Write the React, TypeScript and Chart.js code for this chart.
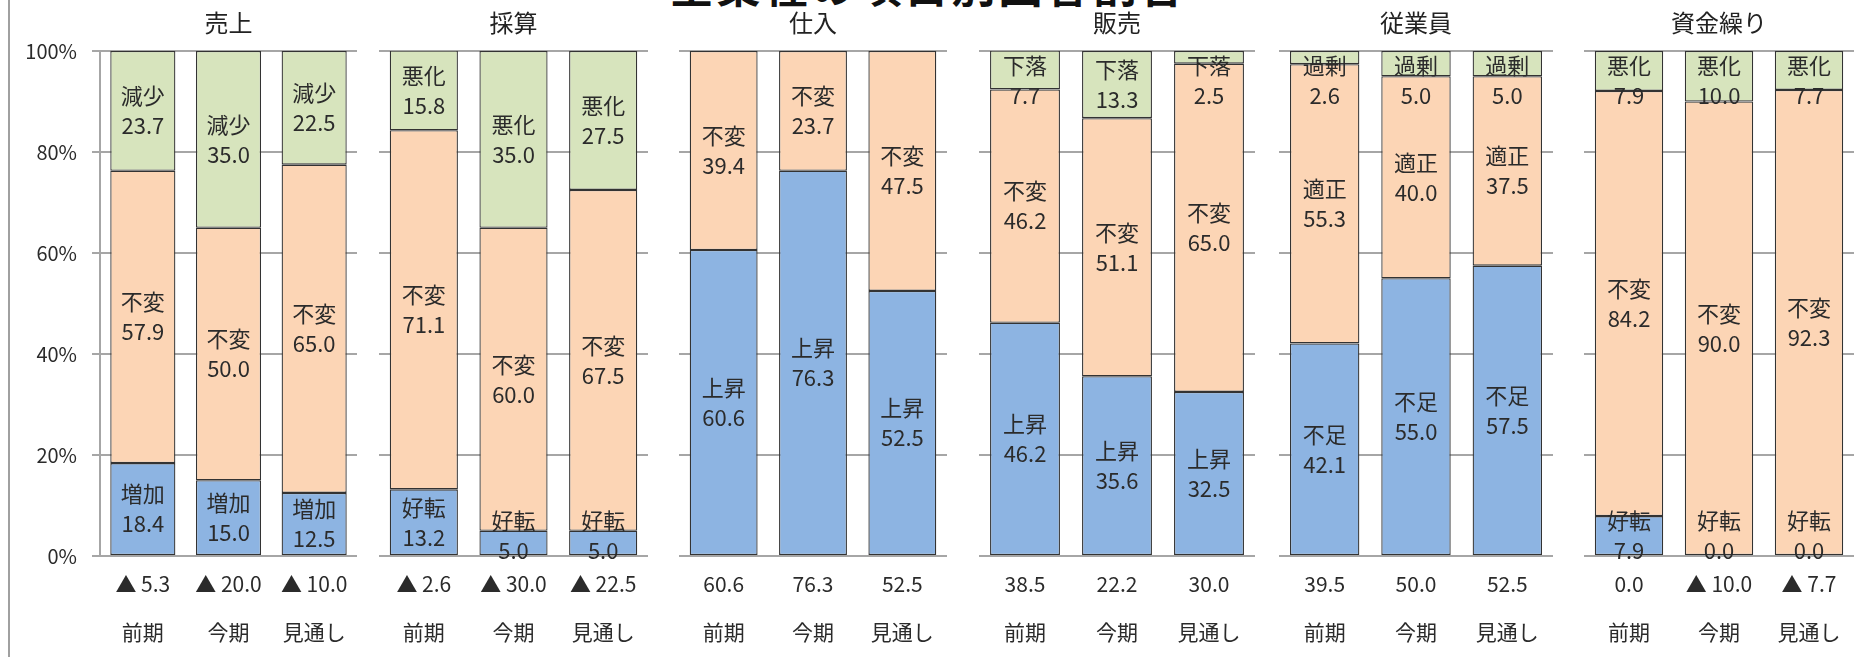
import React, { useEffect, useRef } from 'react';
import { Chart, registerables } from 'chart.js';

Chart.register(...registerables);

const FONT = "'Noto Sans CJK JP', 'Noto Sans', sans-serif";

// Survey periods shown under every column
const periods = ['前期', '今期', '見通し'];

// 売上
const salesUp = [18.4, 15.0, 12.5];
const salesFlat = [57.9, 50.0, 65.0];
const salesDown = [23.7, 35.0, 22.5];
const salesDI = [-5.3, -20.0, -10.0];

// 採算
const profitBetter = [13.2, 5.0, 5.0];
const profitFlat = [71.1, 60.0, 67.5];
const profitWorse = [15.8, 35.0, 27.5];
const profitDI = [-2.6, -30.0, -22.5];

// 仕入
const purchaseUp = [60.6, 76.3, 52.5];
const purchaseFlat = [39.4, 23.7, 47.5];
const purchaseDI = [60.6, 76.3, 52.5];

// 販売
const priceUp = [46.2, 35.6, 32.5];
const priceFlat = [46.2, 51.1, 65.0];
const priceDown = [7.7, 13.3, 2.5];
const priceDI = [38.5, 22.2, 30.0];

// 従業員
const staffShort = [42.1, 55.0, 57.5];
const staffRight = [55.3, 40.0, 37.5];
const staffExcess = [2.6, 5.0, 5.0];
const staffDI = [39.5, 50.0, 52.5];

// 資金繰り
const cashBetter = [7.9, 0.0, 0.0];
const cashFlat = [84.2, 90.0, 92.3];
const cashWorse = [7.9, 10.0, 7.7];
const cashDI = [0.0, -10.0, -7.7];

const SEGMENT_COLORS = ['#8DB4E2', '#FCD5B5', '#D7E4BD'];

type Series = [string, number[]];
interface PanelDef {
  title: string;
  left: number;
  width: number;
  axis: boolean;
  series: Series[];
  di: number[];
}

const panels: PanelDef[] = [
  { title: '売上', left: 0, width: 357, axis: true, series: [['増加', salesUp], ['不変', salesFlat], ['減少', salesDown]], di: salesDI },
  { title: '採算', left: 379, width: 269, axis: false, series: [['好転', profitBetter], ['不変', profitFlat], ['悪化', profitWorse]], di: profitDI },
  { title: '仕入', left: 679, width: 268, axis: false, series: [['上昇', purchaseUp], ['不変', purchaseFlat]], di: purchaseDI },
  { title: '販売', left: 979, width: 276, axis: false, series: [['上昇', priceUp], ['不変', priceFlat], ['下落', priceDown]], di: priceDI },
  { title: '従業員', left: 1279, width: 274, axis: false, series: [['不足', staffShort], ['適正', staffRight], ['過剰', staffExcess]], di: staffDI },
  { title: '資金繰り', left: 1584, width: 270, axis: false, series: [['好転', cashBetter], ['不変', cashFlat], ['悪化', cashWorse]], di: cashDI },
];

const formatDI = (v: number) => (v < 0 ? '▲ ' + Math.abs(v).toFixed(1) : v.toFixed(1));

const GRID = '#a6a6a6';
const TEXT = '#2b2b2b';

// Two-line "name / value" labels inside each stacked segment, plus the panel heading
const segmentLabels = {
  id: 'segmentLabels',
  afterDatasetsDraw(chart: any, _args: any, opts: any) {
    const { ctx, chartArea } = chart;
    ctx.save();
    ctx.font = `22px ${FONT}`;
    ctx.fillStyle = TEXT;
    ctx.textAlign = 'center';
    ctx.textBaseline = 'middle';
    chart.data.datasets.forEach((ds: any, i: number) => {
      const meta = chart.getDatasetMeta(i);
      meta.data.forEach((bar: any, j: number) => {
        const { x, y, base } = bar.getProps(['x', 'y', 'base'], true);
        let cy = (y + base) / 2;
        cy = Math.max(cy, chartArea.top + 30);
        cy = Math.min(cy, chartArea.bottom - 20);
        ctx.fillText(ds.label, x, cy - 15);
        ctx.fillText(Number(ds.data[j]).toFixed(1), x, cy + 15);
      });
    });
    ctx.font = `24px ${FONT}`;
    ctx.fillStyle = '#222222';
    ctx.fillText(opts.title, (chartArea.left + chartArea.right) / 2, 23);
    ctx.restore();
  },
};

function Panel({ def }: { def: PanelDef }) {
  const ref = useRef<HTMLCanvasElement>(null);

  useEffect(() => {
    if (!ref.current) return;
    const chart = new Chart(ref.current, {
      type: 'bar',
      data: {
        labels: periods.map((p, j) => [formatDI(def.di[j]), p]),
        datasets: def.series.map(([name, values], i) => ({
          label: name,
          data: values,
          backgroundColor: SEGMENT_COLORS[i],
          borderColor: '#333333',
          borderWidth: 1.3,
          borderSkipped: false,
          barPercentage: 0.76,
          categoryPercentage: 1,
        })),
      },
      options: {
        responsive: false,
        animation: false,
        layout: { padding: { top: 51, left: 0, right: 0, bottom: 0 } },
        plugins: {
          legend: { display: false },
          tooltip: { enabled: false },
          title: { display: false },
          segmentLabels: { title: def.title },
        } as any,
        scales: {
          x: {
            stacked: true,
            grid: { display: false, drawTicks: false },
            border: { display: false },
            ticks: {
              autoSkip: false,
              maxRotation: 0,
              padding: 4,
              color: TEXT,
              font: { family: FONT, size: 21, lineHeight: 2.3 },
            },
            afterFit: (s: any) => {
              s.height = 101;
            },
          },
          y: {
            stacked: true,
            min: 0,
            max: 100,
            ticks: {
              display: def.axis,
              stepSize: 20,
              padding: 15,
              color: TEXT,
              font: { family: FONT, size: 20 },
              callback: (v: any) => v + '%',
            },
            grid: { color: GRID, lineWidth: 2, drawTicks: def.axis, tickLength: 8 },
            border: { display: def.axis, color: GRID, width: 2 },
            afterFit: (s: any) => {
              s.width = def.axis ? 100 : 0;
            },
          },
        },
      },
      plugins: [segmentLabels],
    });
    return () => chart.destroy();
  }, [def]);

  return (
    <canvas
      ref={ref}
      width={def.width}
      height={657}
      style={{ position: 'absolute', left: def.left, top: 0, width: def.width, height: 657 }}
    />
  );
}

export default function App() {
  return (
    <div
      style={{
        position: 'absolute',
        left: 0,
        top: 0,
        width: 1854,
        height: 657,
        overflow: 'hidden',
        background: '#ffffff',
        fontFamily: FONT,
      }}
    >
      <div
        style={{
          position: 'absolute',
          left: 0,
          top: -38,
          width: 1856,
          textAlign: 'center',
          fontSize: 44,
          lineHeight: '44px',
          fontWeight: 700,
          letterSpacing: 3,
          color: '#111111',
          whiteSpace: 'nowrap',
        }}
      >
        全業種の項目別回答割合
      </div>
      <div style={{ position: 'absolute', left: 8, top: 0, width: 2, height: 657, background: '#a0a0a0' }} />
      {panels.map((p) => (
        <Panel key={p.title} def={p} />
      ))}
    </div>
  );
}
